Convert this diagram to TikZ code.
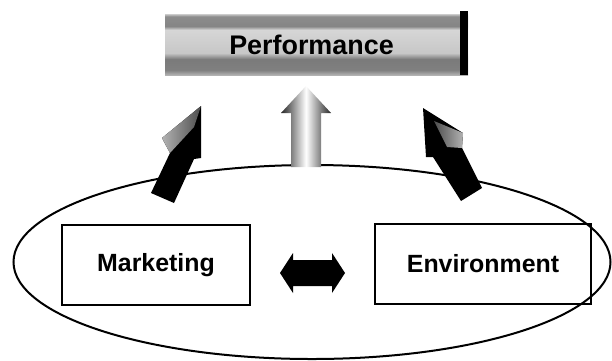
\documentclass[tikz,border=0pt]{standalone}
\usepackage{fontspec}
\setmainfont{Liberation Sans}
\usepackage{tkz-euclide}
\usetikzlibrary{shapes.geometric}

\pgfdeclareverticalshading{barshade}{100bp}{color(0bp)=(black!30); color(25bp)=(black!30);
  color(29bp)=(black!50); color(38bp)=(black!52); color(43bp)=(black!22); color(62bp)=(black!16);
  color(65bp)=(black!48); color(73bp)=(black!45); color(75bp)=(black!20); color(100bp)=(black!20)}

\begin{document}
\begin{tikzpicture}[x=1bp,y=-1bp,
    factor/.style={draw,line width=2.2bp,minimum width=#1,minimum height=80bp,inner sep=0pt,
      font=\bfseries\fontsize{25}{25}\selectfont}]
            \useasboundingbox (0,0) rectangle (612,360);
            % the firm and its surroundings
            \node[ellipse,draw,line width=2bp,minimum width=597bp,minimum height=194bp,inner sep=0pt] (group) at (312,262) {};
            \node[factor=188bp] (mkt) at (156,265) {Marketing};
            \node[factor=216bp] (env) at (483,264) {Environment};
            % result bar on top
            \node[shading=barshade,minimum width=303bp,minimum height=61bp,inner sep=0pt,
              font=\bfseries\fontsize{27}{27}\selectfont] (perf) at (316.5,44.5) {\hspace*{-10bp}\raisebox{-2bp}{Performance}};
            \fill[black] ([xshift=-8bp,yshift=3bp]perf.north east) rectangle (perf.south east);
            % two-way link
            \tkzDefPoint(280,273){D1}
            \tkzDefPoint(293,253){D2}
            \tkzDefPoint(293,260){D3}
            \tkzDefPoint(332,260){D4}
            \tkzDefPoint(332,253){D5}
            \tkzDefPoint(345,273){D6}
            \tkzDefPoint(332,293){D7}
            \tkzDefPoint(332,286){D8}
            \tkzDefPoint(293,286){D9}
            \tkzDefPoint(293,293){D10}
            \tkzFillPolygon[fill=black](D1,D2,D3,D4,D5,D6,D7,D8,D9,D10)
            % left arrow
            \tkzDefPoint(201,106){L1}
            \tkzDefPoint(201,158){L2}
            \tkzDefPoint(194,159){L3}
            \tkzDefPoint(174,203){L4}
            \tkzDefPoint(151,193){L5}
            \tkzDefPoint(170,153){L6}
            \tkzDefPoint(162,138){L7}
            \tkzDefPoint(194,127){L8}
            \tkzFillPolygon[fill=black](L1,L2,L3,L4,L5,L6,L7)
            \shade[left color=black!30,right color=black!70] (L7) -- (L1) -- (L8) -- (L6) -- cycle;
            % right arrow
            \tkzDefPoint(423,108){R1}
            \tkzDefPoint(426,157){R2}
            \tkzDefPoint(433,157){R3}
            \tkzDefPoint(461,201){R4}
            \tkzDefPoint(482,188){R5}
            \tkzDefPoint(462,148){R6}
            \tkzDefPoint(463,133){R7}
            \tkzDefPoint(434,121){R8}
            \tkzDefPoint(447,147){R9}
            \tkzFillPolygon[fill=black](R1,R2,R3,R4,R5,R6,R7)
            \shade[left color=black!70,right color=black!30] (R8) -- (R7) -- (R6) -- (R9) -- cycle;
            % middle arrow
            \tkzDefPoint(306,86){M1}
            \tkzDefPoint(331,113){M2}
            \tkzDefPoint(321,113){M3}
            \tkzDefPoint(321,167){M4}
            \tkzDefPoint(291,167){M5}
            \tkzDefPoint(291,113){M6}
            \tkzDefPoint(281,113){M7}
            \shade[left color=black!85,right color=black!85,middle color=white] (M1) -- (M2) -- (M3) -- (M4) -- (M5) -- (M6) -- (M7) -- cycle;
        \end{tikzpicture}
\end{document}
